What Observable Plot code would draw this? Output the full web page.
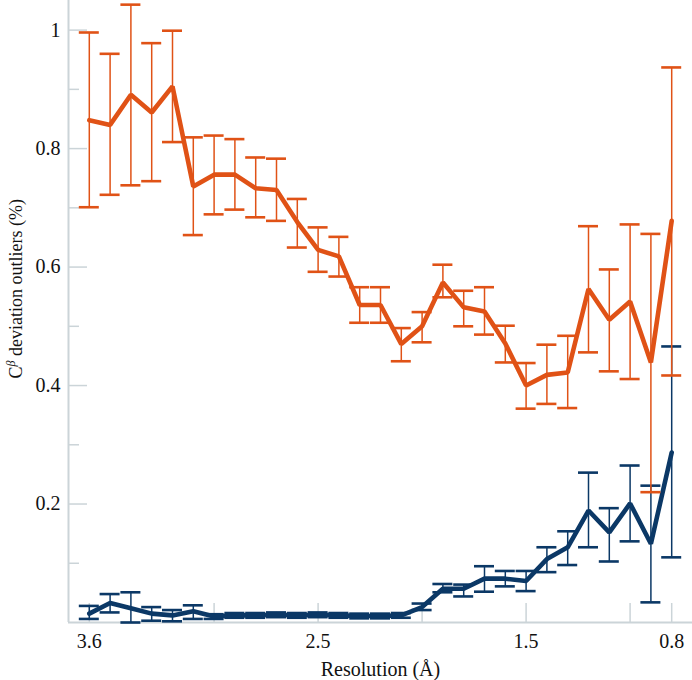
<!DOCTYPE html>
<html><head><meta charset="utf-8">
<script src="https://cdn.jsdelivr.net/npm/d3@7"></script>
<script src="https://cdn.jsdelivr.net/npm/@observablehq/plot@0.6"></script>
<style>
body{margin:0;background:#fff}
svg text{font-family:"Liberation Serif","Times New Roman",serif !important}
</style>
</head><body><div id="chart"></div>
<script>
// Resolution bins (Angstrom)
const resolution = [3.6,3.5,3.4,3.3,3.2,3.1,3.0,2.9,2.8,2.7,2.6,2.5,2.4,2.3,2.2,2.1,2.0,1.9,1.8,1.7,1.6,1.5,1.4,1.3,1.2,1.1,1.0,0.9,0.8];

// Orange series: mean and error bar bounds (%)
const orangeMean = [0.848,0.840,0.891,0.861,0.905,0.736,0.756,0.756,0.733,0.730,0.676,0.629,0.618,0.536,0.536,0.470,0.500,0.574,0.532,0.525,0.471,0.400,0.418,0.422,0.563,0.511,0.542,0.439,0.678];
const orangeLow  = [0.701,0.722,0.738,0.745,0.811,0.654,0.689,0.697,0.684,0.678,0.633,0.592,0.584,0.506,0.506,0.441,0.473,0.549,0.500,0.486,0.439,0.361,0.369,0.362,0.456,0.424,0.411,0.220,0.417];
const orangeHigh = [0.996,0.960,1.043,0.978,0.999,0.819,0.822,0.816,0.785,0.783,0.715,0.667,0.651,0.566,0.566,0.497,0.524,0.604,0.560,0.566,0.501,0.438,0.469,0.484,0.669,0.596,0.672,0.656,0.937];

// Blue series: mean and error bar bounds (%)
const blueMean = [0.015,0.033,0.024,0.015,0.012,0.019,0.010,0.012,0.012,0.013,0.012,0.013,0.012,0.011,0.011,0.012,0.026,0.057,0.057,0.074,0.074,0.070,0.107,0.127,0.189,0.152,0.201,0.133,0.287];
const blueLow  = [0.006,0.017,0.000,0.003,0.002,0.006,0.006,0.008,0.008,0.009,0.008,0.009,0.008,0.007,0.007,0.008,0.021,0.051,0.044,0.052,0.061,0.053,0.085,0.097,0.127,0.103,0.137,0.034,0.110];
const blueHigh = [0.028,0.048,0.051,0.026,0.021,0.029,0.014,0.016,0.016,0.017,0.016,0.017,0.016,0.015,0.015,0.016,0.032,0.065,0.064,0.095,0.087,0.087,0.127,0.154,0.253,0.193,0.265,0.231,0.466];

// Axes
const xDomain = [3.7, 0.7];
const yDomain = [0, 1.05];
const xTicks = [3.6, 3.0, 2.5, 2.0, 1.5, 1.0, 0.8];
const xTickLabels = [3.6, 2.5, 1.5, 0.8];
const yMajorTicks = [0.2, 0.4, 0.6, 0.8, 1];
const yMinorTicks = [0.1, 0.3, 0.5, 0.7, 0.9];
const xLabel = "Resolution (\u00c5)";
const yLabelHead = "C";
const yLabelSup = "\u03b2";
const yLabelTail = " deviation outliers (%)";

const orangeColor = "#e05216";
const blueColor = "#0b3866";
const axisColor = "#cbd4d8";
const serifFont = "Liberation Serif";

const W = 692, H = 680, mL = 68, mR = 0, mT = 0, mB = 58;
const frameW = W - mL - mR, frameH = H - mT - mB;

const orange = resolution.map((r, i) => ({res: r, mean: orangeMean[i], lo: orangeLow[i], hi: orangeHigh[i]}));
const blue = resolution.map((r, i) => ({res: r, mean: blueMean[i], lo: blueLow[i], hi: blueHigh[i]}));

function seriesMarks(rows, color) {
  return [
    Plot.ruleX(rows, {x: "res", y1: "lo", y2: "hi", stroke: color, strokeWidth: 1.5}),
    Plot.ruleY(rows, {x1: "res", x2: "res", y: "hi", stroke: color, strokeWidth: 2.6, insetLeft: -10, insetRight: -10}),
    Plot.ruleY(rows, {x1: "res", x2: "res", y: "lo", stroke: color, strokeWidth: 2.6, insetLeft: -10, insetRight: -10}),
    Plot.line(rows, {x: "res", y: "mean", stroke: color, strokeWidth: 4.6, strokeLinejoin: "miter"})
  ];
}

const labelOpts = {frameAnchor: "left", rotate: -90, lineAnchor: "bottom", textAnchor: "start", fontFamily: serifFont, fill: "#111"};

const chart = Plot.plot({
  width: W, height: H,
  marginLeft: mL, marginRight: mR, marginTop: mT, marginBottom: mB,
  style: {fontFamily: serifFont, fontSize: "20px"},
  x: {type: "linear", domain: xDomain},
  y: {type: "linear", domain: yDomain},
  marks: [
    Plot.ruleY(yMajorTicks, {y: d => d, stroke: axisColor, strokeWidth: 1.5, insetRight: frameW - 19}),
    Plot.ruleY(yMinorTicks, {y: d => d, stroke: axisColor, strokeWidth: 1.5, insetRight: frameW - 11}),
    Plot.ruleX(xTicks, {x: d => d, stroke: axisColor, strokeWidth: 1.5, insetTop: frameH - 19}),
    Plot.ruleX([xDomain[0]], {x: d => d, stroke: axisColor, strokeWidth: 2}),
    Plot.ruleY([yDomain[0]], {y: d => d, stroke: axisColor, strokeWidth: 2}),
    Plot.axisY(yMajorTicks, {tickSize: 0, tickPadding: 8, fontSize: 20, fontFamily: serifFont, label: null, tickFormat: d => String(d), fill: "#111"}),
    Plot.axisX(xTickLabels, {tickSize: 0, tickPadding: 11, fontSize: 20, fontFamily: serifFont, label: null, tickFormat: d => d.toFixed(1), fill: "#111"}),
    ...seriesMarks(blue, blueColor),
    ...seriesMarks(orange, orangeColor),
    Plot.text([xLabel], {text: d => d, frameAnchor: "bottom", dy: 53, lineAnchor: "bottom", fontSize: 20, fontFamily: serifFont, fill: "#111"}),
    Plot.text([yLabelHead], {...labelOpts, text: d => d, dx: -47, dy: 67, fontSize: 18}),
    Plot.text([yLabelSup], {...labelOpts, text: d => d, dx: -54, dy: 55, fontSize: 12, fontStyle: "italic"}),
    Plot.text([yLabelTail], {...labelOpts, text: d => d, dx: -47, dy: 49, fontSize: 18})
  ]
});

document.getElementById("chart").appendChild(chart);
</script>
</body></html>
